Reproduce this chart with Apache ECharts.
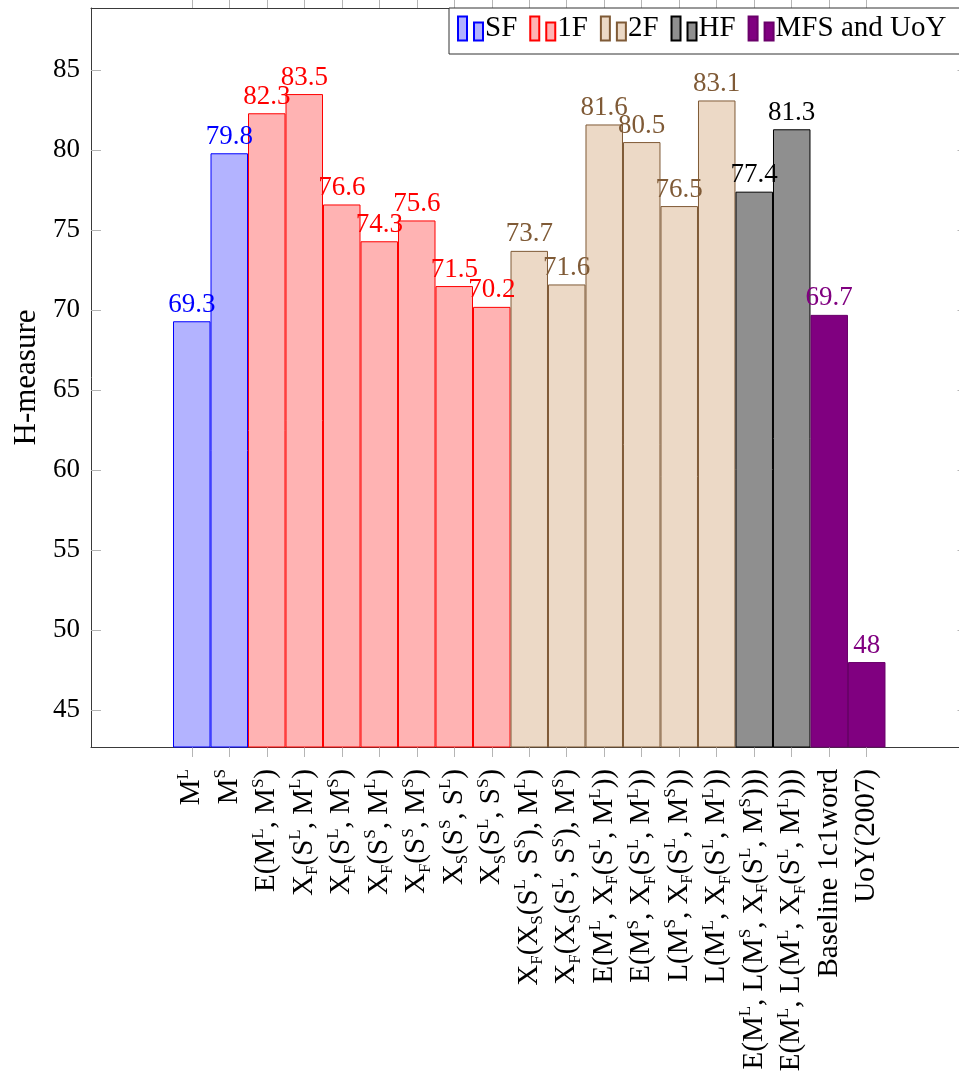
<!DOCTYPE html>
<html>
<head>
<meta charset="utf-8">
<script src="https://cdn.jsdelivr.net/npm/echarts@6/dist/echarts.min.js"></script>
<style>
  html, body { margin: 0; padding: 0; background: #fff; }
  #chart { width: 959px; height: 1086px; }
</style>
</head>
<body>
<div id="chart"></div>
<script>
// method names: ^X = superscript, _X = subscript
const sfLabels = ['M^L', 'M^S']
const sfValues = [69.3, 79.8]
const oneFLabels = ['E(M^L,M^S)', 'X_F(S^L,M^L)', 'X_F(S^L,M^S)', 'X_F(S^S,M^L)', 'X_F(S^S,M^S)', 'X_S(S^S,S^L)', 'X_S(S^L,S^S)']
const oneFValues = [82.3, 83.5, 76.6, 74.3, 75.6, 71.5, 70.2]
const twoFLabels = ['X_F(X_S(S^L,S^S),M^L)', 'X_F(X_S(S^L,S^S),M^S)', 'E(M^L,X_F(S^L,M^L))', 'E(M^S,X_F(S^L,M^L))', 'L(M^S,X_F(S^L,M^S))', 'L(M^L,X_F(S^L,M^L))']
const twoFValues = [73.7, 71.6, 81.6, 80.5, 76.5, 83.1]
const hfLabels = ['E(M^L,L(M^S,X_F(S^L,M^S)))', 'E(M^L,L(M^L,X_F(S^L,M^L)))']
const hfValues = [77.4, 81.3]
const mfsLabels = ['Baseline 1c1word', 'UoY(2007)']
const mfsValues = [69.7, 48]
const yTicks = [45, 50, 55, 60, 65, 70, 75, 80, 85]

const FONT = 'Liberation Serif'

const groups = [
  { name: 'SF', labels: sfLabels, values: sfValues, fill: '#b3b3ff', border: '#0000ff', text: '#0000ff' },
  { name: '1F', labels: oneFLabels, values: oneFValues, fill: '#ffb3b3', border: '#ff0000', text: '#ff0000' },
  { name: '2F', labels: twoFLabels, values: twoFValues, fill: '#ecd9c6', border: '#7f5a36', text: '#7f5a36' },
  { name: 'HF', labels: hfLabels, values: hfValues, fill: '#8f8f8f', border: '#000000', text: '#000000' },
  { name: 'MFS and UoY', labels: mfsLabels, values: mfsValues, fill: '#800080', border: '#6a006a', text: '#800080' }
]

const categories = []
const positions = []
const series = groups.map(g => {
  const data = g.values.map((v, i) => [categories.length + i, v])
  g.labels.forEach(l => {
    positions.push(categories.length)
    categories.push(l)
  })
  return {
    name: g.name,
    type: 'bar',
    barWidth: '100%',
    barGap: '-100%',
    data: data,
    itemStyle: { color: g.fill, borderColor: g.border, borderWidth: 1 },
    label: {
      show: true,
      position: 'top',
      distance: 3,
      color: g.text,
      fontFamily: FONT,
      fontSize: 27,
      formatter: p => String(p.value[1])
    }
  }
})

// turn ^X / _X into rich text tokens
const toRich = s => s.replace(/\^(\w)/g, '{sup|$1}').replace(/_(\w)/g, '{sub|$1}').replace(/,/g, ', ')

const pad = 2.687
const xMin = -pad
const xMax = categories.length - 1 + pad

const frameLine = { show: true, onZero: false, lineStyle: { color: '#3a3a3a', width: 1 } }

const chart = echarts.init(document.getElementById('chart'))
chart.setOption({
  animation: false,
  backgroundColor: '#fff',
  textStyle: { fontFamily: FONT },
  grid: { left: 91, top: 8, width: 876.5, height: 739, outerBoundsMode: 'none', containLabel: false },
  legend: {
    left: 449,
    top: 8,
    width: 800,
    padding: [6, 30, 11, 8],
    itemGap: 12,
    itemWidth: 25,
    itemHeight: 24,
    icon: 'path://M0,0H9V24H0Z M16,6H25V24H16Z',
    borderColor: '#333',
    borderWidth: 1,
    backgroundColor: '#fff',
    textStyle: { fontFamily: FONT, fontSize: 29, color: '#000', padding: [6, 0, 0, -3] },
    data: groups.map(g => g.name)
  },
  xAxis: [
    {
      type: 'value',
      min: xMin,
      max: xMax,
      position: 'bottom',
      splitLine: { show: false },
      axisLine: frameLine,
      axisTick: { show: true, inside: false, length: 10, customValues: positions, lineStyle: { color: '#b5b5b5' } },
      axisLabel: {
        customValues: positions,
        rotate: 90,
        margin: 22,
        color: '#000',
        fontFamily: FONT,
        fontSize: 29,
        lineHeight: 34,
        formatter: v => toRich(categories[Math.round(v)] || ''),
        rich: {
          sup: { fontSize: 17, lineHeight: 17, verticalAlign: 'top', fontFamily: FONT, color: '#000' },
          sub: { fontSize: 17, lineHeight: 17, verticalAlign: 'bottom', fontFamily: FONT, color: '#000' }
        }
      }
    },
    {
      type: 'value',
      min: xMin,
      max: xMax,
      position: 'top',
      splitLine: { show: false },
      axisLine: frameLine,
      axisTick: { show: true, inside: false, length: 8, customValues: positions, lineStyle: { color: '#b5b5b5' } },
      axisLabel: { show: false }
    }
  ],
  yAxis: [
    {
      type: 'value',
      min: 42.69,
      max: 88.88,
      position: 'left',
      name: 'H-measure',
      nameLocation: 'middle',
      nameGap: 43,
      nameTextStyle: { fontFamily: FONT, fontSize: 31, color: '#000' },
      splitLine: { show: false },
      axisLine: frameLine,
      axisTick: { show: true, inside: true, length: 10, customValues: yTicks, lineStyle: { color: '#b5b5b5' } },
      axisLabel: { customValues: yTicks, margin: 11, color: '#000', fontFamily: FONT, fontSize: 27 }
    },
    {
      type: 'value',
      min: 42.69,
      max: 88.88,
      position: 'right',
      splitLine: { show: false },
      axisLine: frameLine,
      axisTick: { show: true, inside: true, length: 10, customValues: yTicks, lineStyle: { color: '#b5b5b5' } },
      axisLabel: { show: false }
    }
  ],
  series: series
})
</script>
</body>
</html>
